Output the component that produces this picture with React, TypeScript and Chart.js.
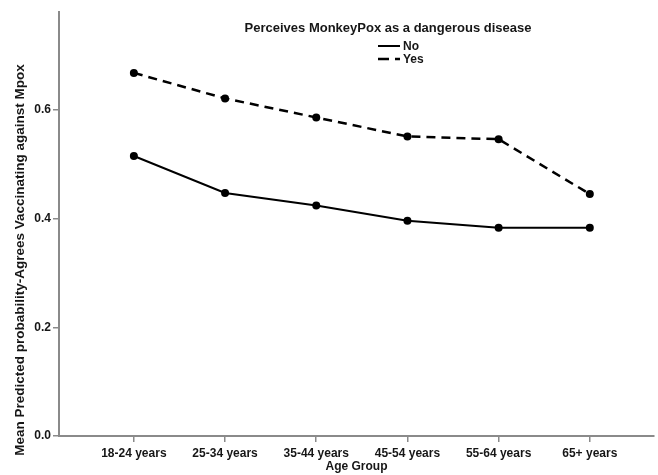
import React, { useEffect, useRef } from "react";
import { Chart, registerables } from "chart.js";

Chart.register(...registerables);

const categories = ["18-24 years", "25-34 years", "35-44 years", "45-54 years", "55-64 years", "65+ years"];
const noValues = [0.515, 0.447, 0.424, 0.396, 0.383, 0.383];
const yesValues = [0.668, 0.621, 0.586, 0.551, 0.546, 0.445];
const yTickValues = [0, 0.2, 0.4, 0.6];
const seriesNames = ["No", "Yes"];
const seriesDash = ["", "11 6"];
const legendTitle = "Perceives MonkeyPox as a dangerous disease";
const xTitle = "Age Group";
const yTitle = "Mean Predicted probability-Agrees Vaccinating against Mpox";

const FONT = "'Liberation Sans', Arial, sans-serif";
const TEXT = "#161616";
const AXIS = "#8a8a8a";

const yTitlePlugin = {
  id: "yTitlePlugin",
  afterDraw(chart: any) {
    const ctx = chart.ctx;
    ctx.save();
    ctx.translate(20, 260);
    ctx.rotate(-Math.PI / 2);
    ctx.font = `bold 13.5px ${FONT}`;
    ctx.fillStyle = TEXT;
    ctx.textAlign = "center";
    ctx.textBaseline = "middle";
    ctx.fillText(yTitle, 0, 0);
    ctx.restore();
  },
};

export default function App() {
  const ref = useRef<HTMLCanvasElement | null>(null);

  useEffect(() => {
    if (!ref.current) return;
    Chart.defaults.font.family = FONT;
    const chart = new Chart(ref.current, {
      type: "line",
      data: {
        datasets: [
          {
            label: seriesNames[0],
            data: noValues.map((v, i) => ({ x: i, y: v })),
            borderColor: "#000",
            backgroundColor: "#000",
            borderWidth: 2,
            pointRadius: 4,
            pointBackgroundColor: "#000",
            pointBorderColor: "#000",
            pointBorderWidth: 0,
            tension: 0,
          },
          {
            label: seriesNames[1],
            data: yesValues.map((v, i) => ({ x: i, y: v })),
            borderColor: "#000",
            backgroundColor: "#000",
            borderWidth: 2.5,
            borderDash: [9, 6],
            pointRadius: 4,
            pointBackgroundColor: "#000",
            pointBorderColor: "#000",
            pointBorderWidth: 0,
            tension: 0,
          },
        ],
      },
      options: {
        responsive: false,
        animation: false,
        events: [],
        layout: { padding: { top: 12, right: 0, bottom: 0, left: 0 } },
        plugins: {
          tooltip: { enabled: false },
          legend: { display: false },
        },
        scales: {
          x: {
            type: "linear",
            bounds: "data",
            min: -0.821,
            max: 5.704,
            afterBuildTicks: (s: any) => {
              s.ticks = categories.map((_, i) => ({ value: i }));
            },
            afterFit: (s: any) => {
              s.height = 39;
            },
            ticks: {
              autoSkip: false,
              maxRotation: 0,
              padding: 4,
              color: TEXT,
              font: { size: 12, weight: "bold" },
              callback: (v: any) => categories[Number(v)] ?? "",
            },
            grid: {
              display: true,
              drawOnChartArea: false,
              drawTicks: true,
              tickLength: 6,
              color: AXIS,
              lineWidth: 1.5,
            },
            border: { display: true, color: AXIS, width: 2 },
            title: {
              display: true,
              text: xTitle,
              color: TEXT,
              font: { size: 12, weight: "bold" },
              padding: { top: 0, bottom: 1 },
            },
          },
          y: {
            type: "linear",
            bounds: "data",
            min: 0,
            max: 0.78,
            afterBuildTicks: (s: any) => {
              s.ticks = yTickValues.map((v) => ({ value: v }));
            },
            afterFit: (s: any) => {
              s.width = 59;
            },
            ticks: {
              padding: 2,
              color: TEXT,
              font: { size: 12, weight: "bold" },
              callback: (v: any) => Number(v).toFixed(1),
            },
            grid: {
              display: true,
              drawOnChartArea: false,
              drawTicks: true,
              tickLength: 6,
              color: AXIS,
              lineWidth: 1.5,
            },
            border: { display: true, color: AXIS, width: 2 },
          },
        },
      } as any,
      plugins: [yTitlePlugin],
    });
    return () => chart.destroy();
  }, []);

  const textStyle: React.CSSProperties = {
    position: "absolute",
    fontFamily: FONT,
    fontWeight: "bold",
    color: TEXT,
    whiteSpace: "nowrap",
  };

  return (
    <div style={{ position: "absolute", left: 0, top: 0, width: 658, height: 475, background: "#fff" }}>
      <canvas ref={ref} width={658} height={475} style={{ display: "block", width: 658, height: 475 }} />
      <div
        style={{
          ...textStyle,
          left: 388,
          top: 20,
          transform: "translateX(-50%)",
          fontSize: 13,
          lineHeight: "16px",
        }}
      >
        {legendTitle}
      </div>
      {seriesNames.map((name, i) => (
        <div key={name} style={{ position: "absolute", left: 378, top: 39 + i * 13, height: 14, display: "flex", alignItems: "center" }}>
          <svg width={22} height={14} style={{ display: "block" }}>
            <line
              x1={0}
              y1={7}
              x2={22}
              y2={7}
              stroke="#000"
              strokeWidth={i === 0 ? 2 : 2.5}
              strokeDasharray={seriesDash[i] || undefined}
            />
          </svg>
          <span style={{ fontFamily: FONT, fontWeight: "bold", color: TEXT, fontSize: 12, lineHeight: "14px", marginLeft: 3 }}>{name}</span>
        </div>
      ))}
    </div>
  );
}
